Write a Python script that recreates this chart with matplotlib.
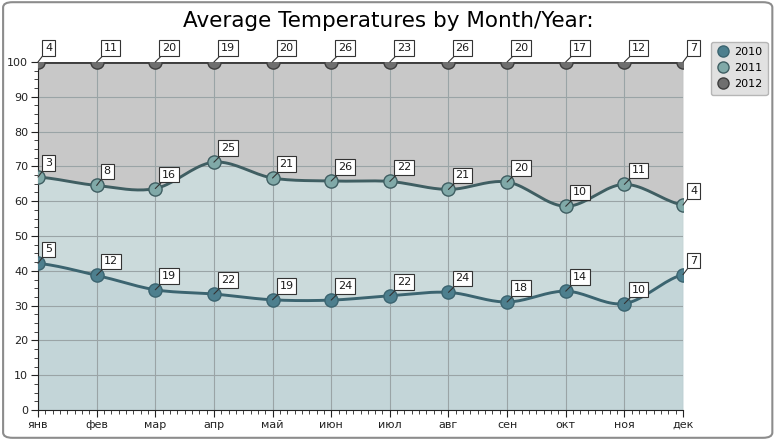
import numpy as np
import matplotlib
matplotlib.use('Agg')
import matplotlib.pyplot as plt
from matplotlib.patches import FancyBboxPatch
from matplotlib.lines import Line2D

months = ['янв', 'фев', 'мар', 'апр', 'май', 'июн', 'июл', 'авг', 'сен', 'окт', 'ноя', 'дек']
t2010 = [5.1, 12, 19, 22, 19, 24, 22, 24, 18, 14, 10, 7]
t2011 = [3, 8, 16, 25, 21, 26, 22, 21, 20, 10, 11.2, 3.6]
t2012 = [4, 11, 20, 19, 20, 26, 23, 26, 20, 17, 11.5, 7.4]
years = ['2010', '2011', '2012']

fill_cols = ['#c3d5d8', '#cbdadb', '#c8c8c8']
line_cols = ['#3b6470', '#3f5e62', '#3e3e3e']
mark_cols = ['#4d7f8e', '#80a9a8', '#6f6f6f']


def cardinal(y, n=20, tension=0.5):
    # catmull-rom style smoothing between the data points
    y = np.asarray(y, float)
    x = np.arange(len(y), dtype=float)
    m = np.zeros_like(y)
    m[1:-1] = tension * (y[2:] - y[:-2])
    m[0] = tension * (y[1] - y[0])
    m[-1] = tension * (y[-1] - y[-2])
    xs, ys = [], []
    for i in range(len(y) - 1):
        s = np.linspace(0, 1, n, endpoint=False)
        h00 = 2 * s**3 - 3 * s**2 + 1
        h10 = s**3 - 2 * s**2 + s
        h01 = -2 * s**3 + 3 * s**2
        h11 = s**3 - s**2
        xs.append(x[i] + s)
        ys.append(h00 * y[i] + h10 * m[i] + h01 * y[i + 1] + h11 * m[i + 1])
    xs.append([x[-1]])
    ys.append([y[-1]])
    return np.concatenate(xs), np.concatenate(ys)


data = np.array([t2010, t2011, t2012], float)
total = data.sum(axis=0)
cum = np.cumsum(data, axis=0) / total * 100

fig = plt.figure(figsize=(7.77, 4.40), dpi=100)
fig.patches.append(FancyBboxPatch((0.004, 0.005), 0.99, 0.99, boxstyle='round,pad=0,rounding_size=0.012',
                                  transform=fig.transFigure, fc='white', ec='#8c8c8c', lw=1.5, zorder=-10))
ax = fig.add_axes([38 / 777, 30 / 440, 645 / 777, 348 / 440])
ax.set_facecolor('none')

x = np.arange(len(months))
prev_x, prev_y = cardinal(np.zeros(len(months)))
for k in range(3):
    sx, sy = cardinal(cum[k])
    ax.fill_between(sx, prev_y, sy, color=fill_cols[k], lw=0, zorder=1)
    prev_y = sy

for k in range(3):
    sx, sy = cardinal(cum[k])
    ax.plot(sx, sy, color=line_cols[k], lw=2.1, zorder=4, solid_capstyle='round')
    ax.plot(x, cum[k], 'o', ms=9.5, mfc=mark_cols[k], mec=line_cols[k], mew=1, zorder=5)
    for i in range(len(months)):
        ax.annotate(str(int(np.floor(data[k, i] + 0.5))), (x[i], cum[k][i]), xytext=(7, 9),
                    textcoords='offset pixels', ha='left', va='bottom', fontsize=8, color='#1a1a1a',
                    zorder=6, bbox=dict(boxstyle='square,pad=0.25', fc='white', ec='#333333', lw=0.8),
                    arrowprops=dict(arrowstyle='-', color='#333333', lw=0.8, shrinkA=0, shrinkB=0),
                    annotation_clip=False)

ax.set_xlim(0, 11)
ax.set_ylim(0, 100)
ax.set_xticks(x)
ax.set_xticklabels(months)
ax.set_xticks(np.arange(0, 11.01, 0.125), minor=True)
ax.set_yticks(np.arange(0, 101, 10))
ax.set_yticks(np.arange(0, 101, 2.5), minor=True)
ax.grid(True, which='major', color='#9aa4a6', lw=0.8)
for g in ax.get_xgridlines() + ax.get_ygridlines():
    g.set_zorder(2)
ax.spines['top'].set_visible(False)
ax.spines['right'].set_visible(False)
ax.spines['left'].set_color('#222222')
ax.spines['bottom'].set_color('#222222')
ax.tick_params(which='major', length=5, labelsize=8, colors='#222222', pad=2)
ax.tick_params(which='minor', length=3, colors='#222222')

fig.text(0.5, 0.952, 'Average Temperatures by Month/Year:', ha='center', va='center', fontsize=15.5)

handles = [Line2D([], [], marker='o', ls='none', ms=8, mfc=mark_cols[k], mec=line_cols[k]) for k in range(3)]
leg = fig.legend(handles, years, loc='upper left', bbox_to_anchor=(705 / 777, 1 - 36 / 440), fontsize=8,
                 frameon=True, fancybox=True, handletextpad=0.3, borderpad=0.5, labelspacing=0.55,
                 handlelength=1.3)
leg.get_frame().set_facecolor('#dadada')
leg.get_frame().set_edgecolor('#a8a8a8')

fig.savefig('out.png', dpi=100)
